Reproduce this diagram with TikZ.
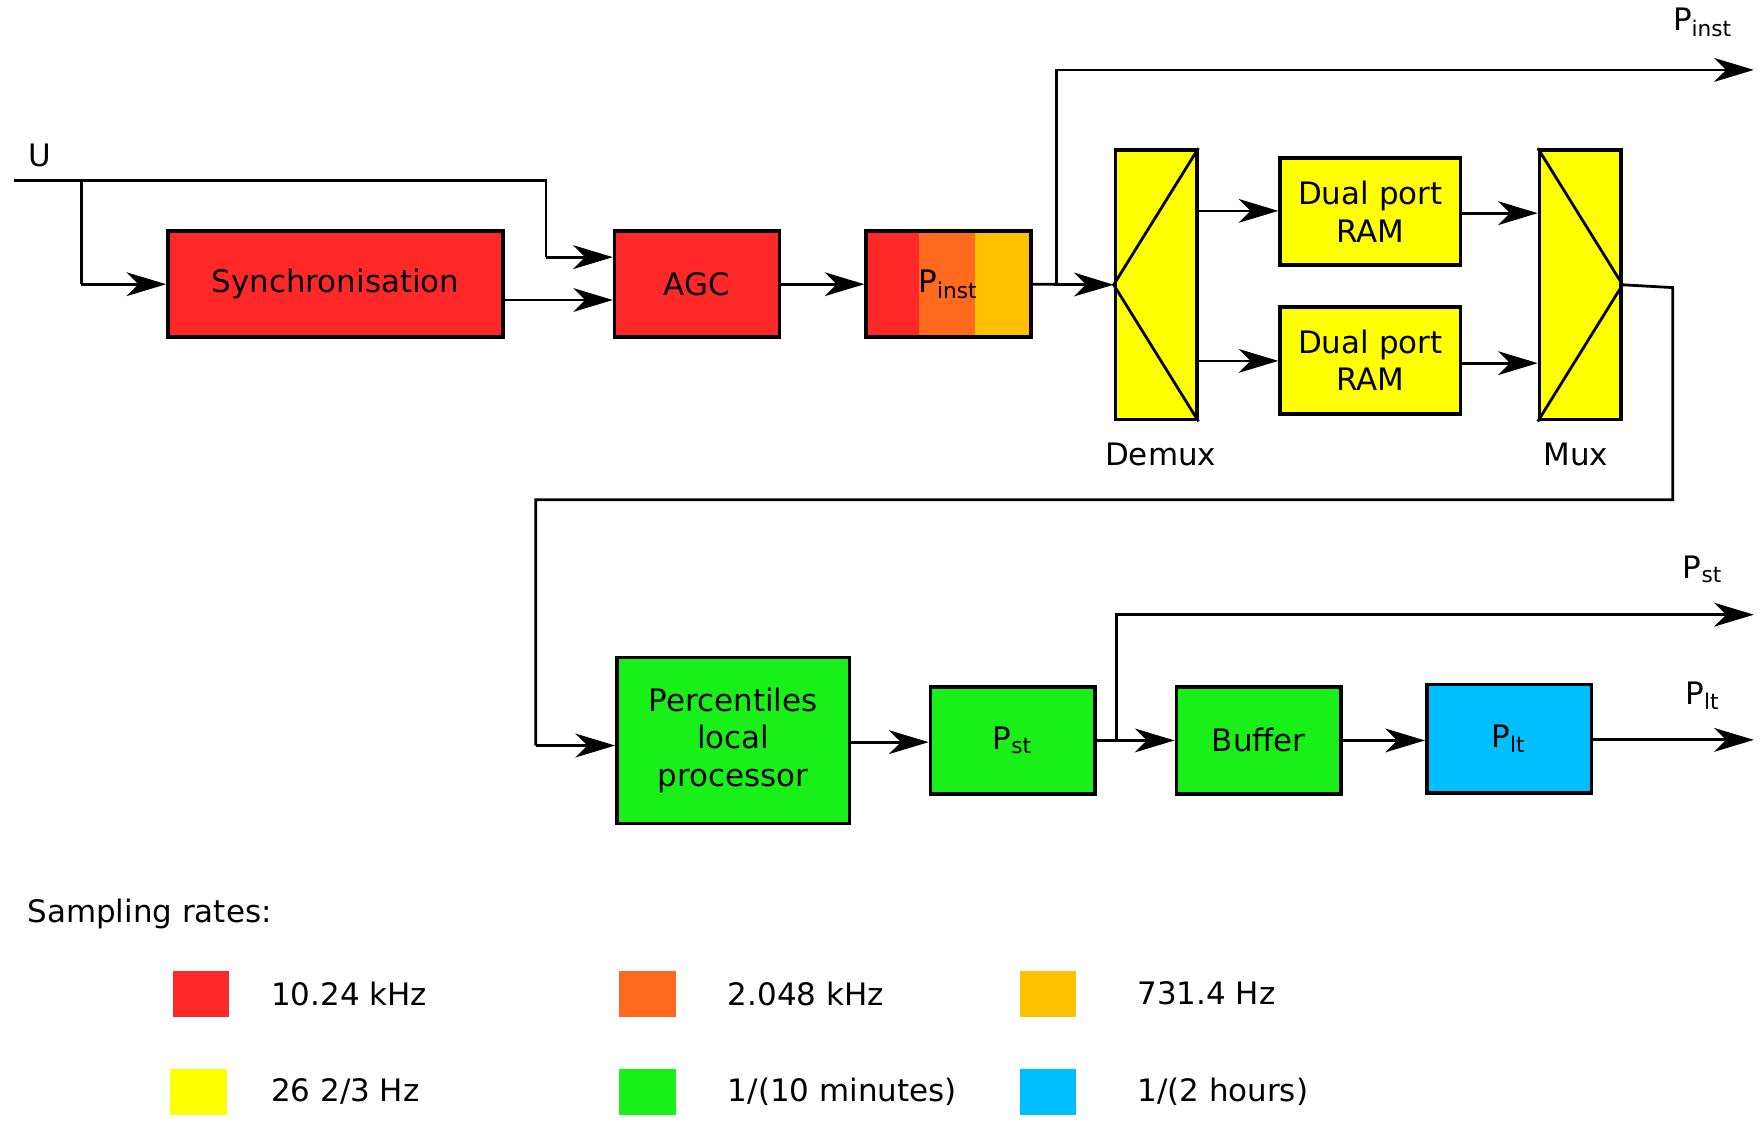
\documentclass[tikz,border=0pt]{standalone}
\usepackage{fontspec}
\setmainfont{DejaVu Sans}
\usetikzlibrary{arrows.meta}
\definecolor{cred}{HTML}{FF2828}
\definecolor{corange}{HTML}{FF6A1F}
\definecolor{cgold}{HTML}{FFC000}
\definecolor{cyel}{HTML}{FFFF00}
\definecolor{cgreen}{HTML}{19F019}
\definecolor{ccyan}{HTML}{00BFFF}
\begin{document}
\begin{tikzpicture}[x=0.01cm,y=-0.01cm,
  every node/.style={font=\fontsize{7.8}{9.5}\selectfont},
  blk/.style={draw,line width=0.9pt,inner sep=0pt,align=center},
  ln/.style={line width=0.7pt},
  ar/.style={ln,-{Stealth[length=10pt,width=6pt,inset=3pt]}},
  sw/.style={minimum width=0.5cm,minimum height=0.41cm,inner sep=0pt}]
\useasboundingbox (0,0) rectangle (1564,1001);
% blocks
\node[blk,fill=cred,minimum width=2.97cm,minimum height=0.94cm] (sync) at (297.5,252) {Synchronisation};
\node[blk,fill=cred,minimum width=1.46cm,minimum height=0.94cm] (agc) at (618,252) {AGC};
\fill[cred] (768,205) rectangle (815,299);
\fill[corange] (815,205) rectangle (864,299);
\fill[cgold] (864,205) rectangle (914,299);
\node[blk,minimum width=1.46cm,minimum height=0.94cm] (pinst) at (841,252) {P\textsubscript{inst}};
\node[blk,fill=cyel,minimum width=0.72cm,minimum height=2.39cm] (demux) at (1025,252.5) {};
\draw[ln] (demux.north east) -- (demux.west) -- (demux.south east);
\node[blk,fill=cyel,minimum width=0.72cm,minimum height=2.39cm] (mux) at (1401,252.5) {};
\draw[ln] (mux.north west) -- (mux.east) -- (mux.south west);
\node at (1029,403) (dl) {Demux};
\node at (1397,403) (ml) {Mux};
\node[blk,fill=cyel,minimum width=1.6cm,minimum height=0.95cm,text width=1.6cm] (ram1) at (1215,187.5) {Dual port\\RAM};
\node[blk,fill=cyel,minimum width=1.6cm,minimum height=0.95cm,text width=1.6cm] (ram2) at (1215,319.5) {Dual port\\RAM};
\node[blk,fill=cgreen,minimum width=2.06cm,minimum height=1.47cm,text width=2.06cm] (perc) at (650,656.5) {Percentiles\\local\\processor};
\node[blk,fill=cgreen,minimum width=1.46cm,minimum height=0.95cm] (pst) at (898,656.5) {P\textsubscript{st}};
\node[blk,fill=cgreen,minimum width=1.46cm,minimum height=0.95cm] (buf) at (1116,656.5) {Buffer};
\node[blk,fill=ccyan,minimum width=1.46cm,minimum height=0.96cm] (plt) at (1338,655) {P\textsubscript{lt}};
% outputs
\node (u) at (35,138) {U};
\node (opi) at (1510,20) {P\textsubscript{inst}};
\node (ops) at (1510,505) {P\textsubscript{st}};
\node (opl) at (1510,617) {P\textsubscript{lt}};
\coordinate (us) at (12,160);
\coordinate (pie) at (1555,62);
\coordinate (pse) at (1555,545);
\coordinate (ple) at (1555,656);
% connectors
\draw[ln] (us) -- (484,160) -- (484,228);
\draw[ar] (484,228) -- (agc.west |- 0,228);
\draw[ln] (72,160) -- (72,252);
\draw[ar] (72,252) -- (sync.west);
\draw[ar] (sync.east |- 0,266) -- (agc.west |- 0,266);
\draw[ar] (agc.east) -- (pinst.west);
\draw[ar] (pinst.east) -- (demux.west);
\draw[ar] (937,252) -- (937,62) -- (pie);
\draw[ar] (demux.east |- 0,187) -- (ram1.west |- 0,187);
\draw[ar] (demux.east |- 0,320) -- (ram2.west |- 0,320);
\draw[ar] (ram1.east |- 0,189) -- (mux.west |- 0,189);
\draw[ar] (ram2.east |- 0,322) -- (mux.west |- 0,322);
\draw[ln] (mux.east) -- (1483,255) -- (1483,443) -- (475,443) -- (475,661);
\draw[ar] (475,661) -- (perc.west |- 0,661);
\draw[ar] (perc.east |- 0,658) -- (pst.west |- 0,658);
\draw[ar] (pst.east) -- (buf.west);
\draw[ar] (990,656.5) -- (990,545) -- (pse);
\draw[ar] (buf.east) -- (plt.west |- 0,656.5);
\draw[ar] (plt.east |- 0,656) -- (ple);
% legend
\node[anchor=west] (lt) at (12,810) {Sampling rates:};
\node[sw,fill=cred] (s1) at (178,881) {};
\node[anchor=west] (t1) at (228,881) {10.24 kHz};
\node[sw,fill=corange] (s2) at (574,881) {};
\node[anchor=west] (t2) at (633,881) {2.048 kHz};
\node[sw,fill=cgold] (s3) at (929,881) {};
\node[anchor=west] (t3) at (996,881) {731.4 Hz};
\node[sw,fill=cyel] (s4) at (176,968) {};
\node[anchor=west] (t4) at (228,968) {26 2/3 Hz};
\node[sw,fill=cgreen] (s5) at (574,968) {};
\node[anchor=west] (t5) at (633,968) {1/(10 minutes)};
\node[sw,fill=ccyan] (s6) at (929,968) {};
\node[anchor=west] (t6) at (996,968) {1/(2 hours)};
\end{tikzpicture}
\end{document}
